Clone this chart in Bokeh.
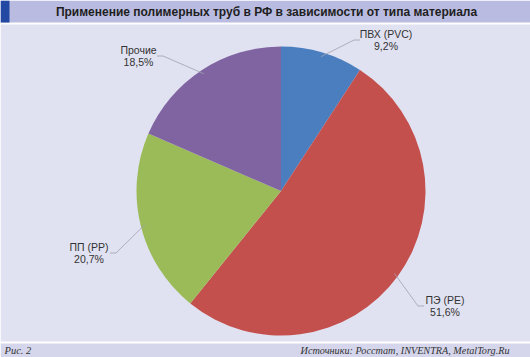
import math
from bokeh.plotting import figure
from bokeh.models import Range1d
from bokeh.core.properties import value
from bokeh.embed import file_html
from bokeh.resources import INLINE

# ---- data ----
categories = ["ПВХ (PVC)", "ПЭ (PE)", "ПП (PP)", "Прочие"]
shares = [9.2, 51.6, 20.7, 18.5]
share_labels = ["9,2%", "51,6%", "20,7%", "18,5%"]
colors = ["#4A7EBF", "#C4504D", "#9BBB59", "#8064A2"]
title_text = "Применение полимерных труб в РФ в зависимости от типа материала"
fig_label = "Рис. 2"
source_text = "Источники: Росстат, INVENTRA, MetalTorg.Ru"

# ---- layout (pixels) ----
W, H = 530, 357
CX, CY, R = 280.5, 190.5, 144.5
# leader elbow positions relative to pie centre (pixel offsets)
elbow_off = [(73, -151), (137, 115), (-165, 62), (-118, -135)]
side = [1, 1, -1, -1]
HSEG = 6

def Y(py):
    return H - py

p = figure(width=W, height=H, x_range=Range1d(0, W), y_range=Range1d(0, H),
           x_axis_type=None, y_axis_type=None, toolbar_location=None,
           output_backend="svg", min_border=0, outline_line_color=None,
           background_fill_color="white", border_fill_color="white")
p.grid.visible = False

# frame bands
p.quad(left=[0], right=[W], top=[Y(0)], bottom=[Y(22)], color="#B9BCE0", line_color=None)
p.quad(left=[0], right=[9], top=[Y(0)], bottom=[Y(22)], color="#2349A2", line_color=None)
p.quad(left=[0], right=[W], top=[Y(24)], bottom=[Y(341)], color="#E1E2F1", line_color=None)
p.quad(left=[0], right=[W], top=[Y(343)], bottom=[Y(H)], color="#D5D6EC", line_color=None)

# pie wedges, clockwise from 12 o'clock
total = sum(shares)
cum = 0.0
starts, ends, mids = [], [], []
for s in shares:
    a0 = cum / total
    cum += s
    a1 = cum / total
    starts.append(math.pi / 2 - 2 * math.pi * a1)
    ends.append(math.pi / 2 - 2 * math.pi * a0)
    mids.append((a0 + a1) / 2)

p.wedge(x=[CX] * len(shares), y=[Y(CY)] * len(shares), radius=R,
        start_angle=starts, end_angle=ends, direction="anticlock",
        fill_color=colors, line_color=None)

# leader lines and labels
for i, name in enumerate(categories):
    ang = 2 * math.pi * mids[i]
    ex = CX + R * math.sin(ang) * 0.97
    ey = CY - R * math.cos(ang) * 0.97
    bx = CX + elbow_off[i][0]
    by = CY + elbow_off[i][1]
    tx = bx + side[i] * HSEG
    p.line(x=[ex, bx, tx], y=[Y(ey), Y(by), Y(by)], line_color="#A0A0B0", line_width=0.8)
    half = 2.5 * len(name)
    lx = tx + side[i] * (3.5 + half)
    p.text(x=[lx], y=[Y(by - 6)], text=[name], text_align="center", text_baseline="middle",
           text_font=value("Liberation Sans"), text_font_size="10.5px", text_color="#333333")
    p.text(x=[lx], y=[Y(by + 6)], text=[share_labels[i]], text_align="center", text_baseline="middle",
           text_font=value("Liberation Sans"), text_font_size="10.5px", text_color="#333333")

# title and footer
p.text(x=[266], y=[Y(11)], text=[title_text], text_align="center", text_baseline="middle",
       text_font=value("Liberation Sans"), text_font_style="bold", text_font_size="12px",
       text_color="#1E1E1E")
p.text(x=[4], y=[Y(350)], text=[fig_label], text_align="left", text_baseline="middle",
       text_font=value("Liberation Serif"), text_font_style="italic", text_font_size="10.5px",
       text_color="#333333")
p.text(x=[509], y=[Y(350)], text=[source_text], text_align="right", text_baseline="middle",
       text_font=value("Liberation Serif"), text_font_style="italic", text_font_size="10.2px",
       text_color="#333333")

open("out.html", "w").write(file_html(p, INLINE))
